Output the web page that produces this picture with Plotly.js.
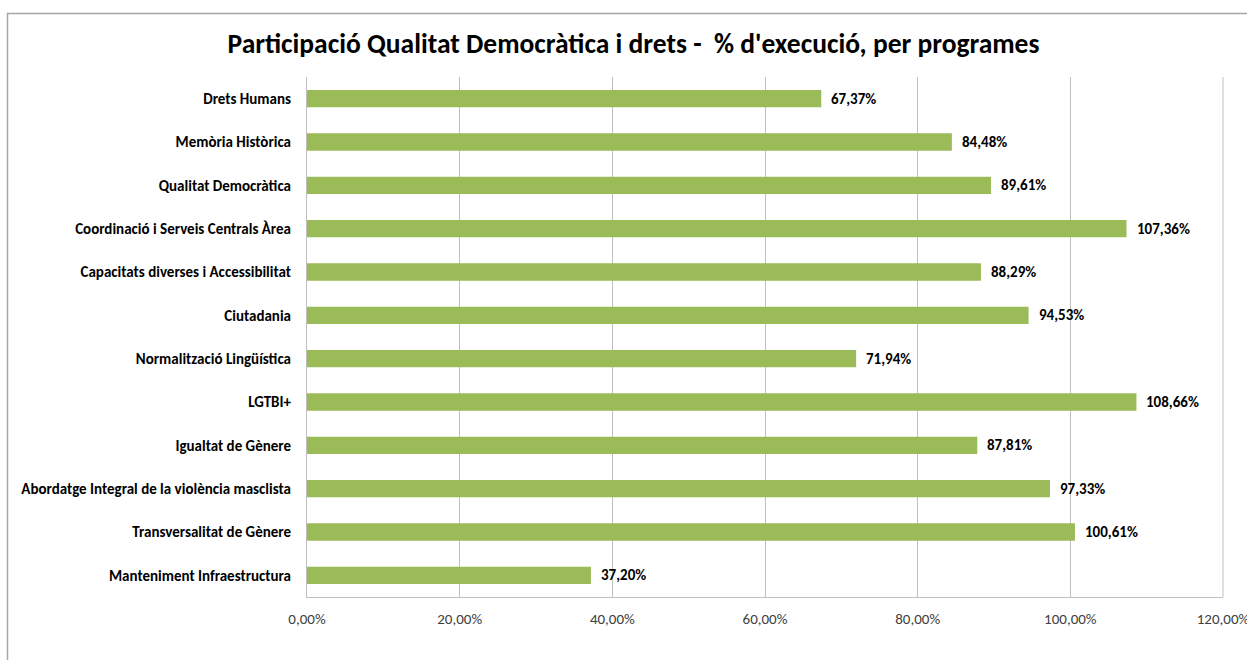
<!DOCTYPE html>
<html>
<head>
<meta charset="utf-8">
<script src="https://cdn.plot.ly/plotly-3.0.1.min.js"></script>
<style>
html,body{margin:0;padding:0;background:#fff;}
#chart{width:1247px;height:660px;}
</style>
</head>
<body>
<div id="chart"></div>
<script>
const categories = [
  "Drets Humans",
  "Memòria Històrica",
  "Qualitat Democràtica",
  "Coordinació i Serveis Centrals Àrea",
  "Capacitats diverses i Accessibilitat",
  "Ciutadania",
  "Normalització Lingüística",
  "LGTBI+",
  "Igualtat de Gènere",
  "Abordatge Integral de la violència masclista",
  "Transversalitat de Gènere",
  "Manteniment Infraestructura"
];
const executionPct = [67.37, 84.48, 89.61, 107.36, 88.29, 94.53, 71.94, 108.66, 87.81, 97.33, 100.61, 37.20];
const tickValues = [0, 20, 40, 60, 80, 100, 120];
const tickLabels = ["0,00%", "20,00%", "40,00%", "60,00%", "80,00%", "100,00%", "120,00%"];

const FONT = "Carlito, Lato, 'Open Sans', sans-serif";
const fmt = v => v.toFixed(2).replace('.', ',') + '%';

const trace = {
  type: 'bar',
  orientation: 'h',
  x: executionPct,
  y: categories,
  marker: {color: '#9BBB59', line: {width: 0}},
  width: 0.4,
  hoverinfo: 'x+y'
};

const annotations = categories.map((c, i) => ({
  x: executionPct[i], y: c, xref: 'x', yref: 'y',
  text: fmt(executionPct[i]), showarrow: false,
  xanchor: 'left', xshift: 8, yanchor: 'middle',
  font: {family: FONT, size: 15, color: '#000', weight: 'bold'}
}));

const plotLeft = 307, plotWidth = 916, plotBottom = 597, plotHeight = 520;
const px = p => (p - plotLeft) / plotWidth;
const py = p => (plotBottom - p) / plotHeight;

const layout = {
  width: 1247, height: 660,
  margin: {l: 307, r: 24, t: 77, b: 63},
  paper_bgcolor: '#fff', plot_bgcolor: '#fff',
  separators: ',.',
  showlegend: false,
  title: {
    text: "<b>Participació Qualitat Democràtica i drets -  % d'execució, per programes</b>",
    font: {family: FONT, size: 27.5, color: '#000'},
    x: px(633.5), xref: 'paper', xanchor: 'center',
    y: 1 - 43/660, yanchor: 'middle'
  },
  xaxis: {
    range: [0, 120],
    tickvals: tickValues, ticktext: tickLabels,
    showgrid: true, gridcolor: '#BFBFBF', gridwidth: 1,
    showline: true, linecolor: '#BFBFBF', linewidth: 1,
    zeroline: false, ticks: '',
    tickfont: {family: FONT, size: 15, color: '#404040'},
    ticklabelstandoff: 8,
    ticklabeloverflow: 'allow',
    automargin: false,
    fixedrange: true
  },
  yaxis: {
    type: 'category',
    categoryorder: 'array', categoryarray: categories,
    autorange: 'reversed',
    showline: true, linecolor: '#BFBFBF', linewidth: 1,
    showgrid: false, zeroline: false, ticks: '',
    tickfont: {family: FONT, size: 15, color: '#000', weight: 'bold'},
    ticklabelstandoff: 12,
    automargin: false,
    fixedrange: true
  },
  annotations: annotations,
  shapes: [
    {type: 'line', xref: 'paper', yref: 'paper', x0: 1, x1: 1, y0: 0, y1: 1,
     line: {color: '#BFBFBF', width: 1}},
    {type: 'rect', xref: 'paper', yref: 'paper',
     x0: px(7.5), x1: px(1260), y0: py(670), y1: py(13.5),
     line: {color: '#A6A6A6', width: 1.5}, fillcolor: 'rgba(0,0,0,0)', layer: 'below'}
  ]
};

Plotly.newPlot('chart', [trace], layout, {displayModeBar: false, staticPlot: true});
</script>
</body>
</html>
